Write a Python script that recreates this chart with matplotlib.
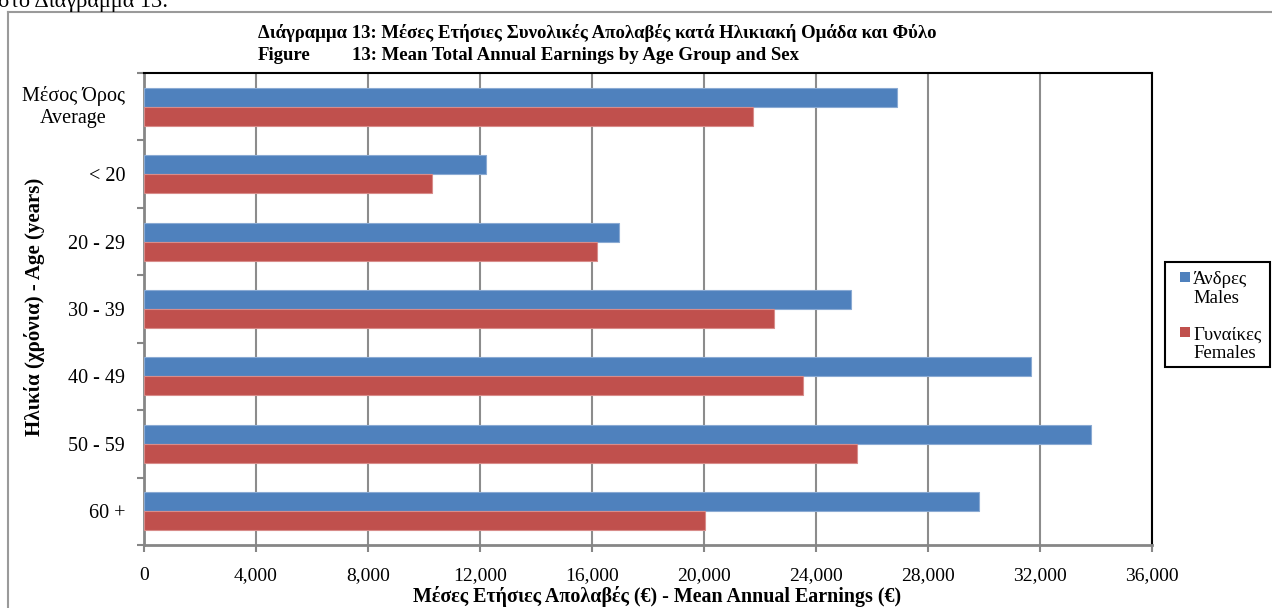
import matplotlib
matplotlib.use("Agg")
import matplotlib.pyplot as plt
from matplotlib.patches import Rectangle
from matplotlib.lines import Line2D
import numpy as np

categories = ["Μέσος Όρος\nAverage", "< 20", "20 - 29", "30 - 39", "40 - 49", "50 - 59", "60 +"]
males = [26900, 12200, 16980, 25240, 31680, 33830, 29810]
females = [21740, 10300, 16170, 22490, 23520, 25450, 20040]
series_names = ["Άνδρες\nMales", "Γυναίκες\nFemales"]
xticks = list(range(0, 36001, 4000))
page_text = "στο Διάγραμμα 13:"
title_gr = "Διάγραμμα 13: Μέσες Ετήσιες Συνολικές Απολαβές κατά Ηλικιακή Ομάδα και Φύλο"
title_en_a = "Figure"
title_en_b = "13: Mean Total Annual Earnings by Age Group and Sex"
xlabel = "Μέσες Ετήσιες Απολαβές (€) - Mean Annual Earnings (€)"
ylabel = "Ηλικία (χρόνια) - Age (years)"

plt.rcParams['font.family'] = ['Liberation Serif', 'DejaVu Serif']

BLUE = '#4F81BD'
RED = '#C0504D'
GRID = '#8C8C8C'
AXC = '#868686'

W, H = 1272, 608
fig = plt.figure(figsize=(W / 100, H / 100), dpi=100)


def fx(px):
    return px / W


def fy(py):
    return 1 - py / H


# outer frame of the chart object (extends beyond the crop)
fig.add_artist(Line2D([fx(8), 1.0], [fy(12), fy(12)], color='#9A9A9A', lw=1.5))
fig.add_artist(Line2D([fx(8), fx(8)], [fy(12), 0.0], color='#9A9A9A', lw=1.5))

# page text cut at the top
fig.text(fx(-2), fy(7), page_text, fontsize=16, va='baseline', ha='left')

ax = fig.add_axes([fx(144), fy(545), fx(1152) - fx(144), fy(73) - fy(545)])

y = np.arange(len(categories))
bh = 0.282
ax.barh(y - bh / 2, males, height=bh, color=BLUE, edgecolor='#8AAAD3', linewidth=0.8, zorder=3)
ax.barh(y + bh / 2, females, height=bh, color=RED, edgecolor='#D88C8A', linewidth=0.8, zorder=3)

ax.set_xlim(0, 36000)
ax.set_ylim(len(categories) - 0.5, -0.5)
ax.set_xticks(xticks)
ax.set_xticklabels([f"{v:,}" for v in xticks], fontsize=14)
ax.xaxis.grid(True, color=GRID, linewidth=1.5, zorder=0)
ax.set_axisbelow(True)
ax.tick_params(axis='x', direction='out', length=5, width=1.5, color=AXC, pad=11)

ax.set_yticks(y)
ax.set_yticklabels([''] + categories[1:], fontsize=14.5)
ax.set_yticks(np.arange(-0.5, len(categories), 1.0), minor=True)
ax.tick_params(axis='y', which='major', length=0, pad=13.5)
ax.tick_params(axis='y', which='minor', direction='out', length=5, width=1.5, color=AXC)

ax.text(-19 / 1008, 0, categories[0], transform=ax.get_yaxis_transform(),
        ha='right', va='center', fontsize=14.5, multialignment='center', linespacing=1.2)

for s in ['left', 'bottom']:
    ax.spines[s].set_color(AXC)
    ax.spines[s].set_linewidth(2)
for s in ['top', 'right']:
    ax.spines[s].set_color('black')
    ax.spines[s].set_linewidth(1.5)

# titles
fig.text(fx(258), fy(38), title_gr, fontsize=13.5, fontweight='bold', va='baseline', ha='left')
fig.text(fx(258), fy(60), title_en_a, fontsize=13.5, fontweight='bold', va='baseline', ha='left')
fig.text(fx(352), fy(60), title_en_b, fontsize=13.5, fontweight='bold', va='baseline', ha='left')

# axis labels
fig.text(fx(657), fy(602), xlabel, fontsize=14.4, fontweight='bold', ha='center', va='baseline')
fig.text(fx(35), fy(307), ylabel, fontsize=15, fontweight='bold', ha='center', va='center', rotation=90)

# legend (manual, Excel-like)
fig.add_artist(Rectangle((fx(1165), fy(367)), fx(1270) - fx(1165), fy(262) - fy(367),
                         transform=fig.transFigure, fill=False, edgecolor='black', lw=1.5))
for i, (name, col) in enumerate(zip(series_names, [BLUE, RED])):
    top = 272 + i * 55
    fig.add_artist(Rectangle((fx(1180), fy(top + 10)), fx(10), 10 / H,
                             transform=fig.transFigure, facecolor=col, edgecolor='none'))
    fig.text(fx(1193), fy(top + 17), name, fontsize=13.5, va='center', ha='left',
             linespacing=1.1)

fig.savefig("out.png", dpi=100)
